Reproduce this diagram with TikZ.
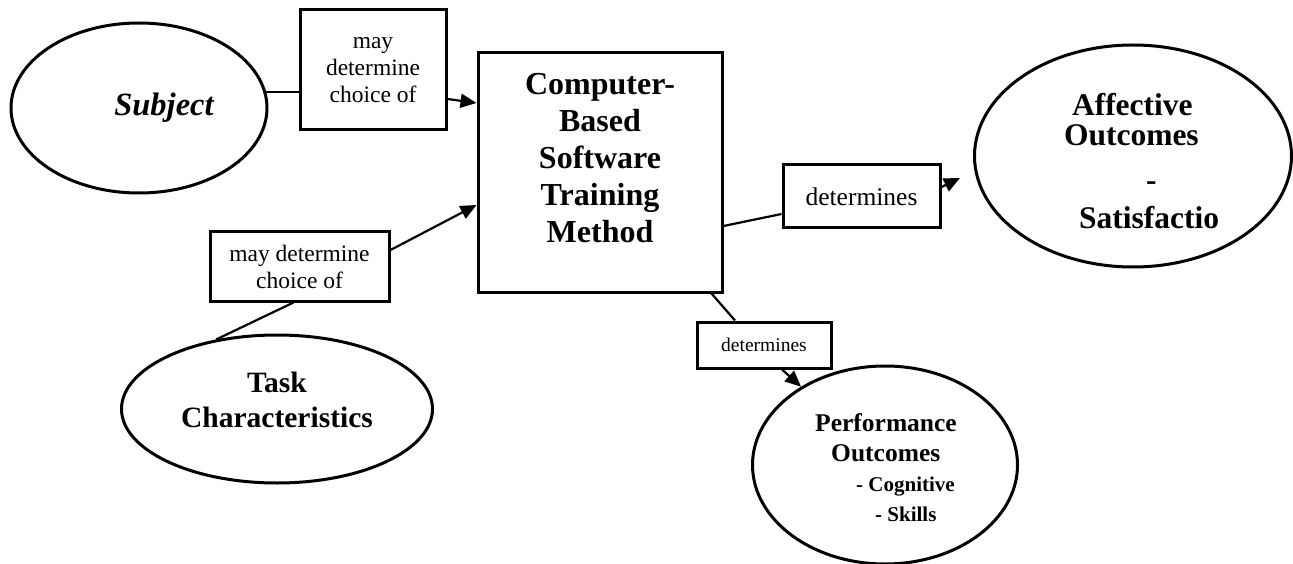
\documentclass[tikz,border=0pt]{standalone}
\usepackage{fontspec}
\setmainfont{Liberation Serif}
\usetikzlibrary{arrows.meta, positioning, shapes.geometric, calc}

\begin{document}
\begin{tikzpicture}[
  x = 1pt, y = -1pt,
  every node/.style = {inner sep=0pt},
  linkbox/.style = {draw, line width=3pt, align=center,
                    font=\fontsize{23.5}{27}\selectfont},
  bigbox/.style  = {draw, line width=3pt, minimum width=244pt, minimum height=239pt},
  oval/.style    = {draw, ellipse, line width=3pt},
  bigtext/.style = {font=\fontsize{32}{37}\selectfont\bfseries, align=center},
  arrow/.style   = {-{Triangle[length=16pt, width=14pt]}, line width=2.2pt},
  link/.style    = {line width=2.2pt}
]
\useasboundingbox (0,0) rectangle (1293,564);

% Nodes
\node[oval, minimum width=256pt, minimum height=170pt] (subject) at (139,108) {};
\node[font=\fontsize{32.5}{38}\selectfont\bfseries\itshape] (subjecttext) at (164,108) {Subject};

\node[linkbox, minimum width=146pt, minimum height=120pt] (choice1) at (373,70)
  {may\\determine\\choice of};

\node[bigbox] (method) at (600,172.5) {};
\node[bigtext] (methodtext) at (600,158) {Computer-\\Based\\Software\\Training\\Method};

\node[linkbox, minimum width=179pt, minimum height=69pt] (choice2) at (299.5,266.5)
  {may determine\\choice of};

\node[oval, minimum width=311pt, minimum height=148pt] (task) at (277,409) {};
\node[font=\fontsize{29.5}{35}\selectfont\bfseries, align=center] (tasktext) at (277,400)
  {Task\\Characteristics};

\node[linkbox, minimum width=157pt, minimum height=63pt,
      font=\fontsize{25.5}{30}\selectfont] (det1) at (861.5,196.5) {determines};

\node[oval, minimum width=317pt, minimum height=222pt] (affect) at (1133,156) {};
\node[font=\fontsize{31.5}{30}\selectfont\bfseries, align=left] (affecttext) at (1141.5,161)
  {\hspace*{8pt}Affective\\Outcomes\\[15pt]\hspace*{82pt}-\\[8pt]\hspace*{15pt}Satisfactio};

\node[linkbox, minimum width=134pt, minimum height=46pt,
      font=\fontsize{19.5}{23}\selectfont] (det2) at (764,345) {determines};

\node[oval, minimum width=265pt, minimum height=198pt] (perform) at (885,465) {};
\node[font=\fontsize{25.5}{30}\selectfont\bfseries, align=left] (performtext) at (886,467.5)
  {Performance\\\hspace*{16pt}Outcomes\\
   {\fontsize{21}{28}\selectfont\hspace*{41pt}- Cognitive}\\
   {\fontsize{21}{28}\selectfont\hspace*{60pt}- Skills}};

% Arrows
\draw[link] (subject.7) -- (subject.7 -| choice1.west);
\draw[arrow] ([yshift=-29pt]choice1.east) -- ([yshift=69.5pt]method.west);

\draw[link] ([xshift=-6pt]choice2.south) -- (task.131);
\draw[arrow] ([yshift=16.5pt]choice2.east) -- ([yshift=-32.5pt]method.west);

\draw[link] ([yshift=-53.5pt]method.east) -- ([yshift=-17.5pt]det1.west);
\draw[arrow] ([yshift=9.5pt]det1.east) -- ([xshift=-13pt, yshift=-22pt]affect.west);

\draw[link] ([xshift=-12pt]method.south east) -- ([xshift=-29pt]det2.north);
\draw[arrow] ([xshift=18pt]det2.south) -- (perform.137);

\end{tikzpicture}
\end{document}
